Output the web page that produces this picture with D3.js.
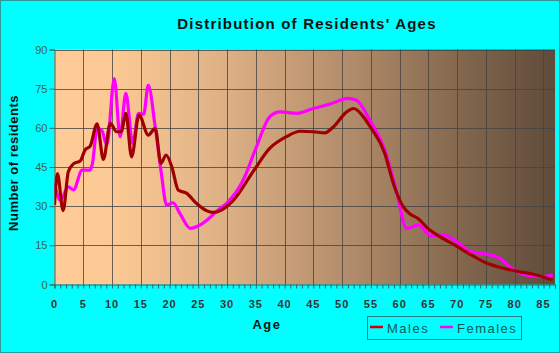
<!DOCTYPE html>
<html><head><meta charset="utf-8">
<script src="https://cdn.jsdelivr.net/npm/d3@7"></script>
<style>body{margin:0;background:#00ffff;}svg{display:block;font-family:"Liberation Sans",Arial,sans-serif;}</style>
</head><body>
<svg id="c" width="560" height="353"></svg>
<script>
const title = "Distribution of Residents' Ages";
const xLabel = "Age";
const yLabel = "Number of residents";
const xTicks = [0,5,10,15,20,25,30,35,40,45,50,55,60,65,70,75,80,85];
const yTicks = [0,15,30,45,60,75,90];
const seriesNames = ["Males","Females"];
const maleAges = [0,0.5,1.5,2.4,3.3,4.5,5.3,6.2,7.4,8.5,9.7,10.8,11.6,12.4,13.4,14.7,16.3,17.5,18.5,19.4,20.4,21.5,23,24.7,26.5,27.5,29,31,34.6,37.4,40.3,42.7,45,47,48.4,50.8,52,53.6,55,57.4,58.9,60.6,61.8,63.2,64.9,67,69.9,72.2,75,78,80.8,83.1,86.6];
const males = [30.5,42.5,28.3,43.2,46.2,47.4,51.5,53,61.5,47.9,61.7,58.5,58.5,65.5,48.9,64.9,57.2,59.8,46.4,49.6,45,36.2,34.9,31,28.2,27.6,28.5,32,43.5,52.1,56.6,58.7,58.5,58.1,60.2,66.1,67.4,64.5,60,50.3,38.7,29.8,27,25.3,21.5,18.3,14.7,11.6,8.3,6.2,4.9,4,1.7];
const femaleAges = [0,1,2.4,3.3,4.8,6.2,6.6,7.4,8.2,9.1,10.4,11.4,12.4,13.6,14.6,15.5,16.3,17.5,18.5,19.5,20.6,21.8,23.6,25.3,28.8,29.9,32.8,35.1,37.4,39.2,42.1,45,47.9,51,52.5,54.8,57.4,59.4,61.2,63.2,65.5,67.8,69.9,72.2,75,77.4,79.1,81.4,84.3,86.6];
const females = [38.7,32.3,37.4,36.2,43.8,43.8,46.4,59.8,59.1,53.4,78.9,56.6,73.2,54,65.5,65.2,76.3,60.4,43.8,30.4,31.3,27.2,21.5,22.8,29.2,31.1,40,52.7,64.2,66.1,65.5,67.4,69.1,71.3,70.6,63,51.5,36.2,21.5,22.8,18.6,18.9,16.4,12.6,11.7,10,6.8,3.9,3,3.6];

const svg = d3.select("#c");
const L=54.5, R=555, T=49.5, B=284.5;
const x = d3.scaleLinear().domain([0,87]).range([L,R]);
const y = d3.scaleLinear().domain([0,90]).range([B,T]);

svg.append("rect").attr("x",0.5).attr("y",0.5).attr("width",559).attr("height",352).attr("fill","#00ffff").attr("stroke","#2a9a9a");

const defs = svg.append("defs");
const g = defs.append("linearGradient").attr("id","bg").attr("x1","0").attr("x2","1").attr("y1","0").attr("y2","0");
[[0,"#ffcc99"],[0.12,"#fcc994"],[0.35,"#dcaf84"],[0.6,"#b08a69"],[0.8,"#85694f"],[1,"#5f4b3a"]].forEach(s=>g.append("stop").attr("offset",s[0]).attr("stop-color",s[1]));
svg.append("rect").attr("x",L).attr("y",T).attr("width",R-L).attr("height",B-T).attr("fill","url(#bg)");

// grid
svg.append("g").selectAll("line").data(xTicks.filter(d=>d>0)).join("line")
  .attr("x1",d=>Math.round(x(d))+0.5).attr("x2",d=>Math.round(x(d))+0.5).attr("y1",T).attr("y2",B)
  .attr("stroke","#444").attr("stroke-opacity",0.8);
svg.append("g").selectAll("line").data(yTicks.filter(d=>d>0)).join("line")
  .attr("x1",L).attr("x2",R).attr("y1",d=>Math.round(y(d))+0.5).attr("y2",d=>Math.round(y(d))+0.5)
  .attr("stroke","#444").attr("stroke-opacity",0.8);

// axes
const xa = svg.append("g").attr("transform",`translate(0,${B})`)
  .call(d3.axisBottom(x).tickValues(d3.range(0,88,1)).tickSize(4).tickFormat(""));
xa.select(".domain").attr("stroke","#336666");
xa.selectAll(".tick line").attr("stroke","#336666");
svg.append("g").selectAll("text").data(xTicks).join("text")
  .attr("x",d=>x(d)).attr("y",B+23).attr("text-anchor","middle")
  .attr("font-size",11).attr("font-weight","bold").attr("letter-spacing",1).attr("fill","#333")
  .text(d=>d);
const ya = svg.append("g").attr("transform",`translate(${L},0)`)
  .call(d3.axisLeft(y).tickValues(yTicks).tickSize(5).tickPadding(2));
ya.select(".domain").attr("stroke","#336666");
ya.selectAll(".tick line").attr("stroke","#336666");
ya.selectAll(".tick text").attr("font-size",11).attr("fill","#336655").attr("font-family","Liberation Sans, Arial, sans-serif");

// lines
const line = d3.line().curve(d3.curveMonotoneX);
const clipId = "clipP";
defs.append("clipPath").attr("id",clipId).append("rect").attr("x",L).attr("y",T-5).attr("width",R-L).attr("height",B-T+5);
const lg = svg.append("g").attr("clip-path",`url(#${clipId})`);
lg.append("path").attr("d",line(femaleAges.map((a,i)=>[x(a),y(females[i])])))
  .attr("fill","none").attr("stroke","#ff00ff").attr("stroke-width",3.2).attr("stroke-linejoin","round");
lg.append("path").attr("d",line(maleAges.map((a,i)=>[x(a),y(males[i])])))
  .attr("fill","none").attr("stroke","#a00000").attr("stroke-width",3.2).attr("stroke-linejoin","round");

// titles
svg.append("text").attr("x",307).attr("y",29).attr("text-anchor","middle").attr("font-size",15)
  .attr("font-weight","bold").attr("letter-spacing",1.2).attr("fill","#111").text(title);
svg.append("text").attr("x",267).attr("y",329).attr("text-anchor","middle").attr("font-size",13)
  .attr("font-weight","bold").attr("letter-spacing",1.5).attr("fill","#111").text(xLabel);
svg.append("text").attr("transform","translate(18,163) rotate(-90)").attr("text-anchor","middle").attr("font-size",13)
  .attr("font-weight","bold").attr("letter-spacing",0.5).attr("fill","#111").text(yLabel);

// legend
const leg = svg.append("g");
leg.append("rect").attr("x",367.5).attr("y",316.5).attr("width",154).attr("height",23).attr("fill","none").attr("stroke","#208080");
const colors = ["#cc0000","#ff00ff"];
const lx = [370,440];
seriesNames.forEach((n,i)=>{
  leg.append("line").attr("x1",lx[i]).attr("x2",lx[i]+13).attr("y1",327).attr("y2",327).attr("stroke",colors[i]).attr("stroke-width",2.5);
  leg.append("text").attr("x",lx[i]+17).attr("y",333).attr("font-size",13).attr("letter-spacing",1.5).attr("fill","#115555").text(n);
});
</script>
</body></html>
